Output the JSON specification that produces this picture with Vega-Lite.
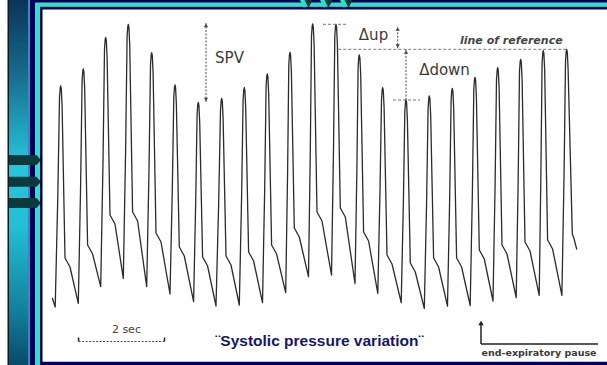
{
  "$schema": "https://vega.github.io/schema/vega-lite/v6.json",
  "width": 607,
  "height": 365,
  "autosize": {"type": "none"},
  "padding": 0,
  "background": "white",
  "config": {"view": {"stroke": null}},
  "datasets": {
    "frame": [
      {"t": -32.5, "t2": -31, "p": 0, "p2": 365, "part": "black"},
      {"t": -12, "t2": -10, "p": 0, "p2": 365, "part": "blue"},
      {"t": -10, "t2": -5, "p": 0, "p2": 365, "part": "navy"},
      {"t": -5, "t2": 0, "p": 0, "p2": 362.3, "part": "cyan"},
      {"t": 0, "t2": 2.5, "p": 0, "p2": 358.3, "part": "navy"},
      {"t": -10, "t2": 567, "p": 362.3, "p2": 365, "part": "navy"},
      {"t": -5, "t2": 567, "p": 358.3, "p2": 362.3, "part": "cyan"},
      {"t": 0, "t2": 567, "p": 355.5, "p2": 358.3, "part": "navy"},
      {"t": 0, "t2": 567, "p": 0, "p2": 3.3, "part": "navy"}
    ],
    "stripe": [{"t": -31, "t2": -12, "p": 0, "p2": 365}],
    "sidearrows": [{"t": -15, "p": 205}, {"t": -15, "p": 183.3}, {"t": -15, "p": 162}],
    "toptriCyan": [{"t": 264, "p": 361}, {"t": 284, "p": 361}, {"t": 304, "p": 361}],
    "toptriDark": [{"t": 268.5, "p": 361}, {"t": 288.5, "p": 361}, {"t": 308.5, "p": 361}],
    "trace": [
      {"t": 12.3, "p": 67}, {"t": 15.2, "p": 58}, {"t": 17.8, "p": 168.5},
      {"t": 19.5, "p": 267}, {"t": 20.2, "p": 277}, {"t": 20.7, "p": 279}, {"t": 21.3, "p": 276}, {"t": 22.1, "p": 259}, {"t": 25, "p": 107}, {"t": 26.7, "p": 104}, {"t": 30, "p": 98}, {"t": 38.3, "p": 61.7}, {"t": 40.6, "p": 178.8},
      {"t": 42.1, "p": 284}, {"t": 42.8, "p": 294}, {"t": 43.3, "p": 296}, {"t": 43.9, "p": 293}, {"t": 44.7, "p": 276}, {"t": 47.6, "p": 120}, {"t": 49.3, "p": 117}, {"t": 52.6, "p": 111}, {"t": 60.7, "p": 78.3}, {"t": 63, "p": 203},
      {"t": 64.5, "p": 315.7}, {"t": 65.2, "p": 325.7}, {"t": 65.7, "p": 327.7}, {"t": 66.3, "p": 324.7}, {"t": 67.1, "p": 307.7}, {"t": 70, "p": 150}, {"t": 71.7, "p": 147}, {"t": 75, "p": 141}, {"t": 83.3, "p": 86.7}, {"t": 85.6, "p": 213.7},
      {"t": 87.1, "p": 328.7}, {"t": 87.8, "p": 338.7}, {"t": 88.3, "p": 340.7}, {"t": 88.9, "p": 337.7}, {"t": 89.7, "p": 320.7}, {"t": 92.6, "p": 153}, {"t": 94.3, "p": 150}, {"t": 97.6, "p": 144}, {"t": 106.7, "p": 78.3}, {"t": 109, "p": 195.3},
      {"t": 110.5, "p": 300.3}, {"t": 111.2, "p": 310.3}, {"t": 111.7, "p": 312.3}, {"t": 112.3, "p": 309.3}, {"t": 113.1, "p": 292.3}, {"t": 116, "p": 132}, {"t": 117.7, "p": 129}, {"t": 121, "p": 123}, {"t": 130, "p": 71}, {"t": 132.3, "p": 175.5},
      {"t": 133.8, "p": 268}, {"t": 134.5, "p": 278}, {"t": 135, "p": 280}, {"t": 135.6, "p": 277}, {"t": 136.4, "p": 260}, {"t": 139.3, "p": 118}, {"t": 141, "p": 115}, {"t": 144.3, "p": 109}, {"t": 153.6, "p": 63.3}, {"t": 155.7, "p": 163},
      {"t": 157.1, "p": 250.7}, {"t": 157.8, "p": 260.7}, {"t": 158.3, "p": 262.7}, {"t": 158.9, "p": 259.7}, {"t": 159.7, "p": 242.7}, {"t": 162.6, "p": 108}, {"t": 164.3, "p": 105}, {"t": 167.6, "p": 99}, {"t": 176, "p": 59}, {"t": 178.7, "p": 162.8},
      {"t": 180.5, "p": 254.7}, {"t": 181.2, "p": 264.7}, {"t": 181.7, "p": 266.7}, {"t": 182.3, "p": 263.7}, {"t": 183.1, "p": 246.7}, {"t": 186, "p": 109}, {"t": 187.7, "p": 106}, {"t": 191, "p": 100}, {"t": 199.3, "p": 60}, {"t": 201.6, "p": 168.6},
      {"t": 203.1, "p": 265.3}, {"t": 203.8, "p": 275.3}, {"t": 204.3, "p": 277.3}, {"t": 204.9, "p": 274.3}, {"t": 205.7, "p": 257.3}, {"t": 208.6, "p": 113}, {"t": 210.3, "p": 110}, {"t": 213.6, "p": 104}, {"t": 222.5, "p": 62.3}, {"t": 224.7, "p": 176.6},
      {"t": 226.1, "p": 279}, {"t": 226.8, "p": 289}, {"t": 227.3, "p": 291}, {"t": 227.9, "p": 288}, {"t": 228.7, "p": 271}, {"t": 231.6, "p": 120}, {"t": 233.3, "p": 117}, {"t": 236.6, "p": 111}, {"t": 245.7, "p": 72.3}, {"t": 247.6, "p": 192.5},
      {"t": 248.8, "p": 300.7}, {"t": 249.5, "p": 310.7}, {"t": 250, "p": 312.7}, {"t": 250.6, "p": 309.7}, {"t": 251.4, "p": 292.7}, {"t": 254.3, "p": 137}, {"t": 256, "p": 134}, {"t": 259.3, "p": 128}, {"t": 268.5, "p": 88.3}, {"t": 270.3, "p": 214.6},
      {"t": 271.5, "p": 329}, {"t": 272.2, "p": 339}, {"t": 272.7, "p": 341}, {"t": 273.3, "p": 338}, {"t": 274.1, "p": 321}, {"t": 277, "p": 153}, {"t": 278.7, "p": 150}, {"t": 282, "p": 144}, {"t": 291.5, "p": 90}, {"t": 293.5, "p": 215.3},
      {"t": 294.8, "p": 328.7}, {"t": 295.5, "p": 338.7}, {"t": 296, "p": 340.7}, {"t": 296.6, "p": 337.7}, {"t": 297.4, "p": 320.7}, {"t": 300.3, "p": 157}, {"t": 302, "p": 154}, {"t": 305.3, "p": 148}, {"t": 315, "p": 81.5}, {"t": 316.9, "p": 195.7},
      {"t": 318.1, "p": 298}, {"t": 318.8, "p": 308}, {"t": 319.3, "p": 310}, {"t": 319.9, "p": 307}, {"t": 320.7, "p": 290}, {"t": 323.6, "p": 133}, {"t": 325.3, "p": 130}, {"t": 328.6, "p": 124}, {"t": 337.8, "p": 71.7}, {"t": 340, "p": 174.5},
      {"t": 341.5, "p": 265.3}, {"t": 342.2, "p": 275.3}, {"t": 342.7, "p": 277.3}, {"t": 343.3, "p": 274.3}, {"t": 344.1, "p": 257.3}, {"t": 347, "p": 110}, {"t": 348.7, "p": 107}, {"t": 352, "p": 101}, {"t": 361.2, "p": 62.3}, {"t": 363.4, "p": 163.6},
      {"t": 364.8, "p": 253}, {"t": 365.5, "p": 263}, {"t": 366, "p": 265}, {"t": 366.6, "p": 262}, {"t": 367.4, "p": 245}, {"t": 370.3, "p": 102}, {"t": 372, "p": 99}, {"t": 375.3, "p": 93}, {"t": 384.3, "p": 56.5}, {"t": 386.6, "p": 162.7},
      {"t": 388.1, "p": 257}, {"t": 388.8, "p": 267}, {"t": 389.3, "p": 269}, {"t": 389.9, "p": 266}, {"t": 390.7, "p": 249}, {"t": 393.6, "p": 107}, {"t": 395.3, "p": 104}, {"t": 398.6, "p": 98}, {"t": 407.5, "p": 59}, {"t": 409.7, "p": 167.8},
      {"t": 411.1, "p": 264.7}, {"t": 411.8, "p": 274.7}, {"t": 412.3, "p": 276.7}, {"t": 412.9, "p": 273.7}, {"t": 413.7, "p": 256.7}, {"t": 416.6, "p": 107}, {"t": 418.3, "p": 104}, {"t": 421.6, "p": 98}, {"t": 430.2, "p": 59.5}, {"t": 432.4, "p": 173.6},
      {"t": 433.8, "p": 275.7}, {"t": 434.5, "p": 285.7}, {"t": 435, "p": 287.7}, {"t": 435.6, "p": 284.7}, {"t": 436.4, "p": 267.7}, {"t": 439.3, "p": 115}, {"t": 441, "p": 112}, {"t": 444.3, "p": 106}, {"t": 453, "p": 64}, {"t": 455.1, "p": 180.6},
      {"t": 456.5, "p": 285.3}, {"t": 457.2, "p": 295.3}, {"t": 457.7, "p": 297.3}, {"t": 458.3, "p": 294.3}, {"t": 459.1, "p": 277.3}, {"t": 462, "p": 120}, {"t": 463.7, "p": 117}, {"t": 467, "p": 111}, {"t": 476.2, "p": 67.5}, {"t": 478.2, "p": 186.6},
      {"t": 479.5, "p": 293.7}, {"t": 480.2, "p": 303.7}, {"t": 480.7, "p": 305.7}, {"t": 481.3, "p": 302.7}, {"t": 482.1, "p": 285.7}, {"t": 485, "p": 123}, {"t": 486.7, "p": 120}, {"t": 490, "p": 114}, {"t": 499.2, "p": 69.7}, {"t": 500.9, "p": 192},
      {"t": 502.1, "p": 302.3}, {"t": 502.8, "p": 312.3}, {"t": 503.3, "p": 314.3}, {"t": 503.9, "p": 311.3}, {"t": 504.7, "p": 294.3}, {"t": 507.6, "p": 125}, {"t": 509.3, "p": 122}, {"t": 512.6, "p": 116}, {"t": 521.9, "p": 69.7}, {"t": 524.1, "p": 192.7},
      {"t": 525.5, "p": 303.7}, {"t": 526.2, "p": 313.7}, {"t": 526.7, "p": 315.7}, {"t": 527.3, "p": 312.7}, {"t": 528.1, "p": 295.7}, {"t": 532.3, "p": 131}, {"t": 533.8, "p": 127}, {"t": 536.8, "p": 115.5}
    ],
    "dashArrows": [
      {"t": 166, "t2": 166, "p": 263, "p2": 342},
      {"t": 357.7, "t2": 357.7, "p": 316.7, "p2": 338.3},
      {"t": 366, "t2": 366, "p": 265, "p2": 315.7},
      {"t": 38.6, "t2": 124.5, "p": 23.5, "p2": 23.5}
    ],
    "dashRef": [
      {"t": 283, "t2": 308, "p": 340.7, "p2": 340.7},
      {"t": 298.3, "t2": 526.7, "p": 315.7, "p2": 315.7},
      {"t": 353, "t2": 380, "p": 265, "p2": 265}
    ],
    "solid": [
      {"t": 38.6, "t2": 38.6, "p": 23.5, "p2": 27.5},
      {"t": 124.5, "t2": 124.5, "p": 23.5, "p2": 27.5},
      {"t": 441, "t2": 441, "p": 21, "p2": 43},
      {"t": 441, "t2": 558, "p": 21, "p2": 21}
    ],
    "heads": [
      {"t": 166, "p": 339.5, "dir": "up"},
      {"t": 166, "p": 265.5, "dir": "down"},
      {"t": 357.7, "p": 336, "dir": "up"},
      {"t": 357.7, "p": 319, "dir": "down"},
      {"t": 366, "p": 313, "dir": "up"}
    ],
    "bigHead": [{"t": 441, "p": 42, "dir": "up"}],
    "labelsMain": [
      {"t": 189.5, "p": 301.7, "label": "SPV"},
      {"t": 333.5, "p": 325, "label": "Δup"},
      {"t": 404.5, "p": 290, "label": "Δdown"}
    ],
    "labelSec": [{"t": 86.4, "p": 31.7, "label": "2  sec"}],
    "labelRef": [{"t": 471.3, "p": 321, "label": "line of reference"}],
    "labelTitle": [{"t": 279.4, "p": 19.5, "label": "¨Systolic pressure variation¨"}],
    "labelPause": [{"t": 499, "p": 9, "label": "end-expiratory pause"}]
  },
  "encoding": {
    "x": {"field": "t", "type": "quantitative", "scale": {"domain": [-40, 567], "nice": false, "zero": false}, "axis": null},
    "y": {"field": "p", "type": "quantitative", "scale": {"domain": [0, 365], "nice": false, "zero": false}, "axis": null}
  },
  "layer": [
    {
      "data": {"name": "stripe"},
      "mark": {"type": "rect", "color": {"gradient": "linear", "x1": 0, "y1": 0, "x2": 0, "y2": 1, "stops": [
        {"offset": 0, "color": "#0a3558"},
        {"offset": 0.2, "color": "#176a8c"},
        {"offset": 0.45, "color": "#25c6dc"},
        {"offset": 0.62, "color": "#22bfd6"},
        {"offset": 0.85, "color": "#13809c"},
        {"offset": 1, "color": "#0a4a6a"}]}},
      "encoding": {"x2": {"field": "t2"}, "y2": {"field": "p2"}}
    },
    {
      "data": {"name": "frame"},
      "mark": {"type": "rect"},
      "encoding": {
        "x2": {"field": "t2"},
        "y2": {"field": "p2"},
        "color": {"field": "part", "type": "nominal", "scale": {"domain": ["navy", "cyan", "black", "blue"], "range": ["#000058", "#1ee8c8", "#0a1c24", "#2b8fc0"]}, "legend": null}
      }
    },
    {
      "data": {"name": "sidearrows"},
      "mark": {"type": "point", "filled": true, "opacity": 1, "size": 1024, "color": "#0c3a3c", "shape": "M-1,-0.31L0.72,-0.31L1,0L0.72,0.31L-1,0.31Z"}
    },
    {
      "data": {"name": "toptriCyan"},
      "mark": {"type": "point", "filled": true, "opacity": 1, "size": 64, "color": "#1ee8c8", "shape": "M-1,-1L1,-1L0,1Z"}
    },
    {
      "data": {"name": "toptriDark"},
      "mark": {"type": "point", "filled": true, "opacity": 1, "size": 64, "color": "#0c3a3c", "shape": "M-1,-1L1,-1L0,1Z"}
    },
    {
      "data": {"name": "trace"},
      "mark": {"type": "line", "color": "#2b2b2b", "strokeWidth": 1.3, "strokeJoin": "round"}
    },
    {
      "data": {"name": "dashArrows"},
      "mark": {"type": "rule", "color": "#4a4a4a", "strokeWidth": 1, "strokeDash": [2, 1.5]},
      "encoding": {"x2": {"field": "t2"}, "y2": {"field": "p2"}}
    },
    {
      "data": {"name": "dashRef"},
      "mark": {"type": "rule", "color": "#777777", "strokeWidth": 1, "strokeDash": [3, 2]},
      "encoding": {"x2": {"field": "t2"}, "y2": {"field": "p2"}}
    },
    {
      "data": {"name": "solid"},
      "mark": {"type": "rule", "color": "#222222", "strokeWidth": 1.5},
      "encoding": {"x2": {"field": "t2"}, "y2": {"field": "p2"}}
    },
    {
      "data": {"name": "heads"},
      "mark": {"type": "point", "filled": true, "opacity": 1, "size": 18, "color": "#444444"},
      "encoding": {"shape": {"field": "dir", "type": "nominal", "scale": {"domain": ["up", "down"], "range": ["triangle-up", "triangle-down"]}, "legend": null}}
    },
    {
      "data": {"name": "bigHead"},
      "mark": {"type": "point", "filled": true, "opacity": 1, "size": 30, "color": "#222222", "shape": "triangle-up"}
    },
    {
      "data": {"name": "labelsMain"},
      "mark": {"type": "text", "font": "DejaVu Sans", "fontSize": 15, "color": "#3a3a3a", "align": "center", "baseline": "alphabetic"},
      "encoding": {"text": {"field": "label", "type": "nominal"}}
    },
    {
      "data": {"name": "labelSec"},
      "mark": {"type": "text", "font": "DejaVu Sans", "fontSize": 11, "color": "#444444", "align": "center", "baseline": "alphabetic"},
      "encoding": {"text": {"field": "label", "type": "nominal"}}
    },
    {
      "data": {"name": "labelRef"},
      "mark": {"type": "text", "font": "DejaVu Sans", "fontSize": 11, "fontWeight": "bold", "fontStyle": "italic", "color": "#444444", "align": "center", "baseline": "alphabetic"},
      "encoding": {"text": {"field": "label", "type": "nominal"}}
    },
    {
      "data": {"name": "labelTitle"},
      "mark": {"type": "text", "font": "Liberation Sans", "fontSize": 15.5, "fontWeight": "bold", "color": "#16166e", "align": "center", "baseline": "alphabetic"},
      "encoding": {"text": {"field": "label", "type": "nominal"}}
    },
    {
      "data": {"name": "labelPause"},
      "mark": {"type": "text", "font": "DejaVu Sans", "fontSize": 9.5, "fontWeight": "bold", "color": "#3a3a3a", "align": "center", "baseline": "alphabetic"},
      "encoding": {"text": {"field": "label", "type": "nominal"}}
    }
  ]
}
